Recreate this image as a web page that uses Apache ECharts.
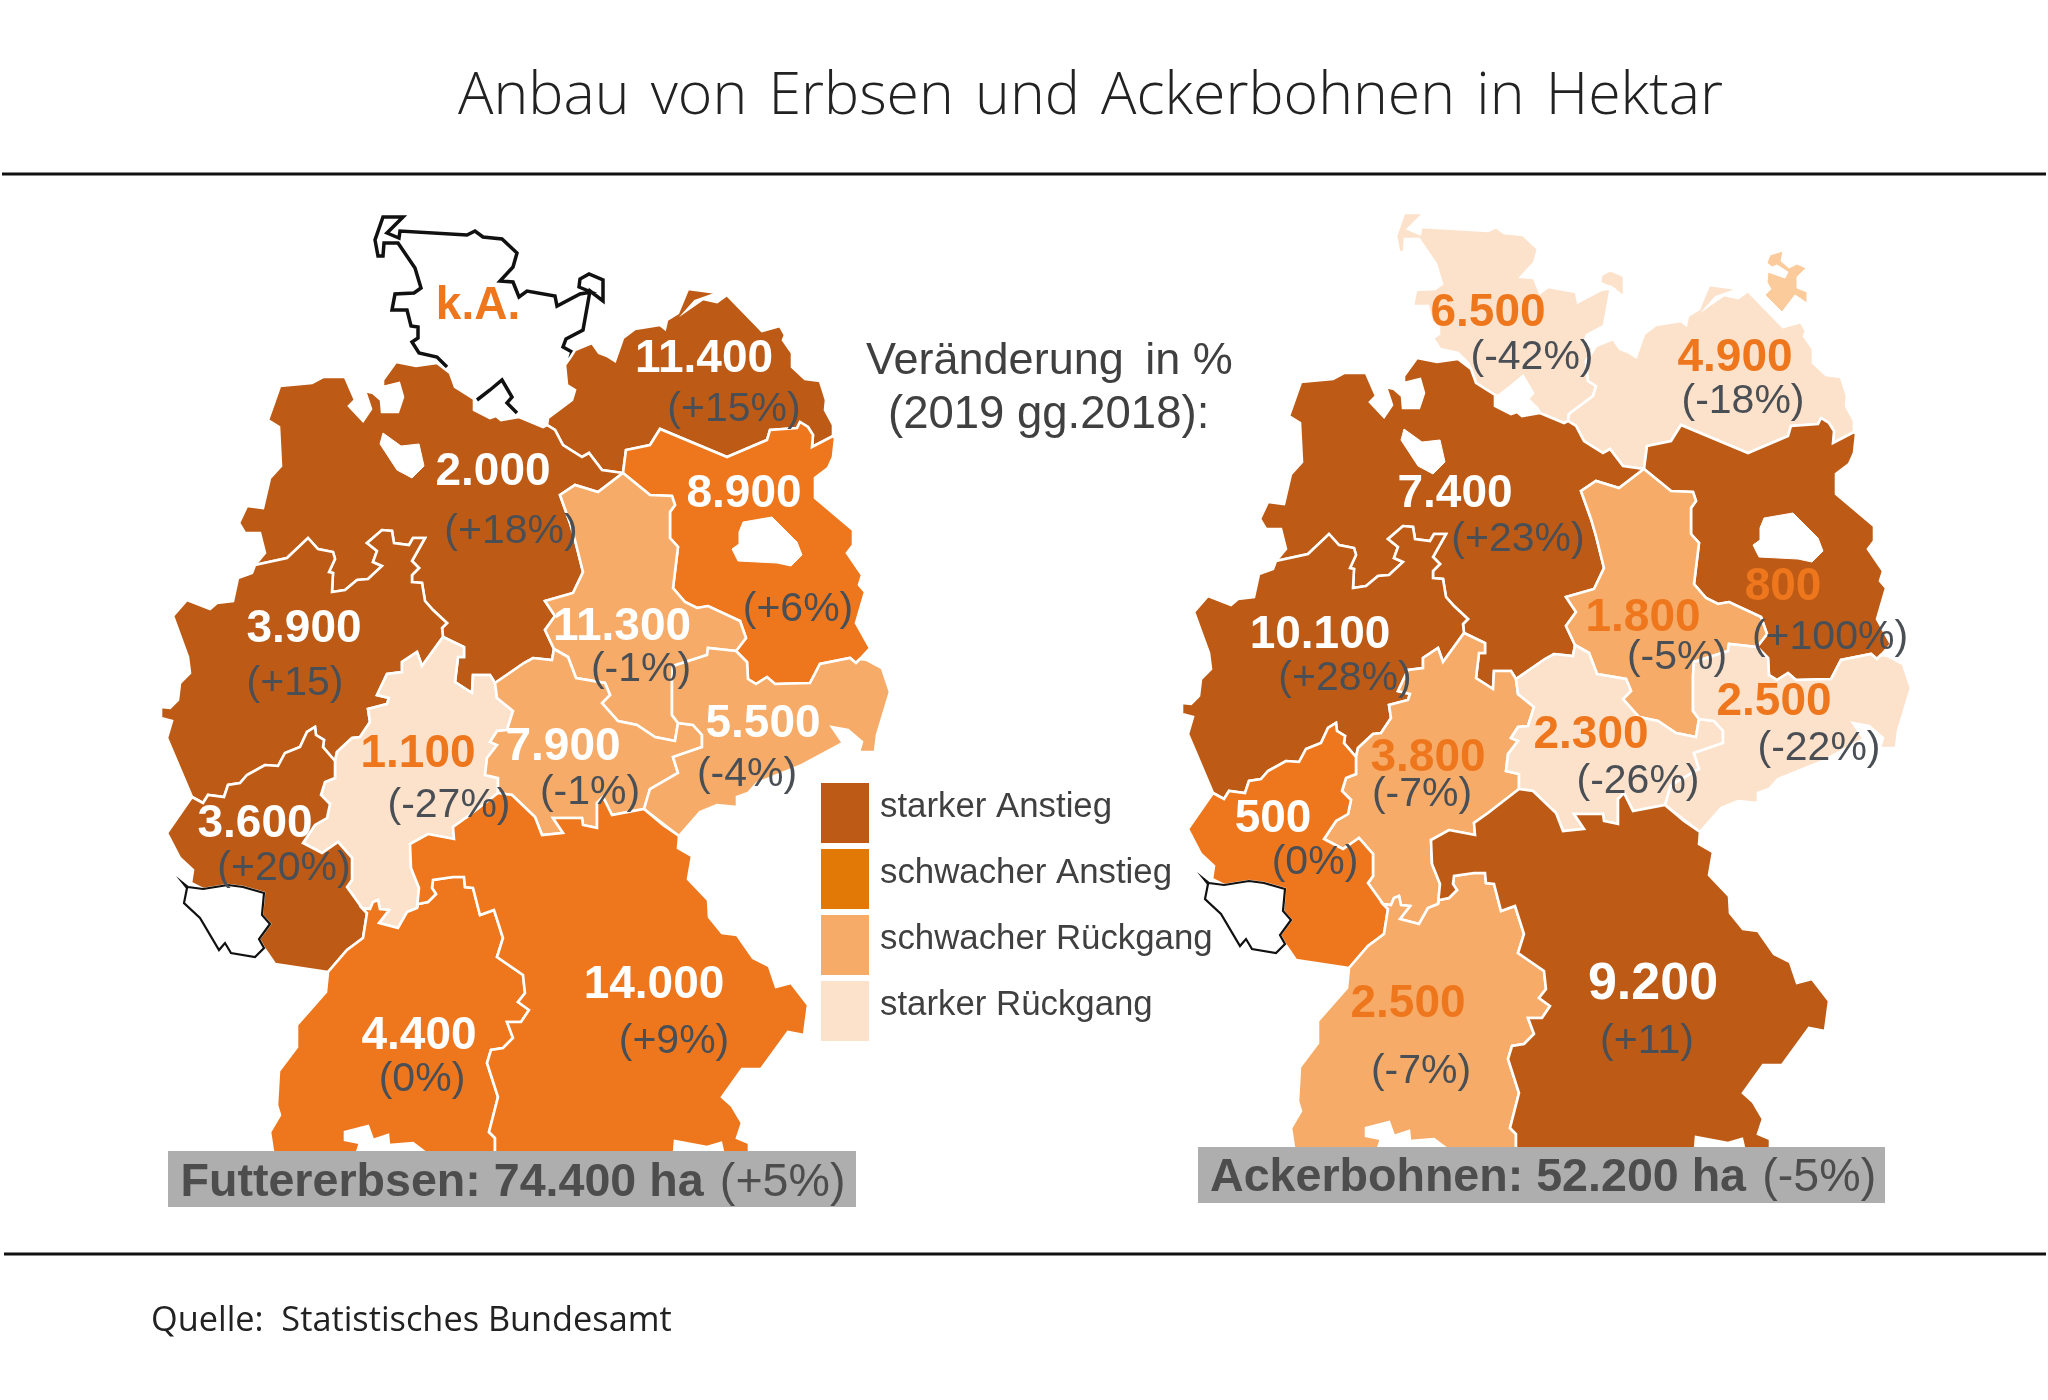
<!DOCTYPE html>
<html><head><meta charset="utf-8">
<style>html,body{margin:0;padding:0;background:#fff}#c{width:2048px;height:1400px}</style>
<script src="https://cdn.jsdelivr.net/npm/echarts@6/dist/echarts.min.js"></script>
</head><body><div id="c"></div>
<script>
// ---------- chart data ----------
const stateNames = ['Schleswig-Holstein','Mecklenburg-Vorpommern','Niedersachsen','Brandenburg','Sachsen-Anhalt','Nordrhein-Westfalen','Hessen','Thüringen','Sachsen','Rheinland-Pfalz','Baden-Württemberg','Bayern'];
const futterValues  = ['k.A.','11.400','2.000','8.900','11.300','3.900','1.100','7.900','5.500','3.600','4.400','14.000'];
const futterChanges = ['','(+15%)','(+18%)','(+6%)','(-1%)','(+15)','(-27%)','(-1%)','(-4%)','(+20%)','(0%)','(+9%)'];
const futterClasses = [-1,0,0,1,2,0,3,2,2,0,1,1];
const bohnenValues  = ['6.500','4.900','7.400','800','1.800','10.100','3.800','2.300','2.500','500','2.500','9.200'];
const bohnenChanges = ['(-42%)','(-18%)','(+23%)','(+100%)','(-5%)','(+28%)','(-7%)','(-26%)','(-22%)','(0%)','(-7%)','(+11)'];
const bohnenClasses = [3,3,0,0,2,0,2,3,3,1,2,0];
const legendLabels = ['starker Anstieg','schwacher Anstieg','schwacher Rückgang','starker Rückgang'];
const legendColors = ['#bd5b16','#e27907','#f6ac68','#fde2cb'];
const classColors  = ['#bd5b16','#ee771e','#f6ac68','#fde2cb'];
const titleText = 'Anbau\u200a von\u200a Erbsen\u200a und\u200a Ackerbohnen\u200a in\u200a Hektar';
const totals = [['Futtererbsen: 74.400 ha','(+5%)'],['Ackerbohnen: 52.200 ha','(-5%)']];

// ---------- label anchors (map units) ----------
const futterValuePos  = [[478,302],[704,355],[493,468],[744,490],[622,623],[304,625],[418,750],[563,743],[763,720],[255,820],[419,1032],[654,981]];
const futterChangePos = [[0,0],[734,408],[511,530],[798,608],[641,668],[295,682],[449,804],[590,791],[747,773],[284,867],[422,1078],[674,1040]];
const bohnenValuePos  = [[467,313],[714,358],[434,494],[762,587],[622,618],[299,635],[407,758],[570,735],[753,702],[252,819],[387,1004],[632,985]];
const bohnenChangePos = [[511,360],[722,404],[497,542],[809,640],[656,660],[324,681],[401,797],[617,784],[798,751],[294,865],[400,1074],[626,1044]];

// ---------- region outlines (map units) ----------
const rev = a => a.slice().reverse();
const shCoast = [[447,367],[437,357],[419,353],[412,342],[418,338],[418,327],[411,326],[407,310],[392,310],[395,294],[414,293],[421,288],[415,268],[398,243],[384,243],[383,256],[378,256],[375,240],[383,217],[403,217],[387,233],[399,238],[400,231],[467,235],[475,231],[483,237],[502,239],[517,253],[513,267],[500,281],[513,282],[519,297],[527,291],[555,296],[557,306],[580,294],[591,292],[579,287],[580,279],[589,274],[603,280],[603,301],[590,291],[583,330],[566,339],[563,347],[572,352],[570,358]];
const shHamburg = [[477,400],[490,390],[502,380],[512,397],[507,403],[517,413]];
const mvTop = [[570,358],[575,350],[592,343],[599,353],[607,356],[615,361],[623,338],[635,329],[660,325],[665,329],[667,320],[678,313],[688,289],[718,293],[695,301],[687,310],[703,299],[717,302],[727,295],[762,331],[780,326],[785,335],[783,340],[792,353],[792,367],[805,379],[820,381],[826,400],[825,410],[833,425],[833,436]];
const mvBb = [[833,436],[812,447],[813,435],[808,427],[800,422],[797,428],[770,430],[767,440],[727,457],[660,429],[650,445],[626,450],[623,473]];
const mvNi = [[623,473],[602,470],[589,453],[582,457],[563,445],[555,430],[547,425]];
const mvSh = [[547,425],[548,418],[572,400],[575,390],[567,385],[565,365],[570,358]];
const niNorth = [[280,386],[312,383],[323,377],[345,377],[355,400],[349,406],[363,421],[371,409],[365,391],[373,393],[381,400],[382,412],[398,412],[403,397],[399,383],[383,387],[383,380],[396,362],[416,366],[437,363],[450,373],[455,387],[474,399],[474,410],[490,418],[496,416],[501,420],[519,417],[543,427],[547,425]];
const niSt = [[623,473],[598,492],[575,485],[560,495],[570,523],[575,540],[583,572],[573,593],[545,601],[555,616],[545,630],[554,649]];
const niTh = [[554,649],[552,660],[533,658],[524,663],[495,683]];
const niHe = [[495,683],[490,675],[473,675],[472,693],[455,682],[458,657],[464,657],[464,647],[443,637]];
const niNrw = [[443,637],[442,628],[447,623],[433,610],[425,601],[422,583],[412,582],[412,575],[419,568],[412,561],[425,538],[413,538],[409,545],[394,543],[392,531],[382,530],[367,543],[377,551],[373,562],[382,566],[368,579],[357,580],[345,590],[332,592],[333,573],[329,572],[335,559],[333,552],[318,549],[308,538],[287,558],[255,565]];
const niWest = [[255,565],[265,553],[260,533],[245,533],[239,523],[247,506],[263,508],[270,478],[281,466],[279,427],[268,420],[280,386]];
const bremen = [[383,433],[401,446],[419,444],[424,466],[412,478],[397,470],[380,444]];
const bbEast = [[833,436],[835,438],[833,457],[828,468],[815,478],[815,498],[853,530],[853,545],[847,553],[862,575],[859,585],[865,592],[856,623],[870,648],[860,659]];
const bbSn = [[860,659],[856,663],[850,658],[820,664],[810,683],[775,684],[767,677],[756,684],[748,679],[747,662],[736,651]];
const bbSt = [[736,651],[746,638],[740,621],[708,606],[697,608],[685,602],[673,588],[678,547],[670,538],[670,512],[675,505],[672,496],[650,495],[623,473]];
const berlin = [[743,522],[772,517],[797,542],[802,555],[791,566],[777,563],[738,561],[732,549],[739,544],[739,532]];
const stSn = [[736,651],[708,648],[707,655],[673,666],[672,680],[672,715],[678,723]];
const stTh = [[678,723],[675,741],[655,737],[637,725],[618,721],[602,703],[610,695],[605,683],[576,678],[568,657],[554,649]];
const thSn = [[678,723],[693,725],[702,735],[702,747],[673,757],[678,773],[650,789],[644,809]];
const thBy = [[644,809],[612,815],[603,797],[597,803],[597,828],[583,825],[582,818],[553,818],[563,833],[542,835],[535,817],[512,795],[498,793]];
const thHe = [[498,793],[498,778],[485,775],[487,758],[497,745],[490,742],[497,731],[507,730],[513,711],[497,698],[495,683]];
const snEast = [[860,659],[867,660],[882,668],[890,692],[877,735],[875,752],[859,752],[862,742],[848,730],[832,727],[843,743],[802,765],[757,783],[748,793],[737,797],[737,807],[717,805],[700,812],[679,836]];
const snBy = [[679,836],[663,825],[644,809]];
const nrwHe = [[443,637],[422,666],[417,652],[402,662],[402,672],[387,674],[377,695],[389,698],[387,704],[368,709],[370,722],[360,737],[352,738],[337,752],[335,761]];
const nrwRp = [[335,761],[323,747],[324,740],[316,735],[315,727],[307,732],[300,747],[285,753],[278,766],[265,765],[247,775],[240,783],[228,785],[224,797],[208,795],[203,803],[192,797]];
const nrwWest = [[192,797],[167,738],[172,721],[161,718],[161,707],[170,708],[178,700],[180,683],[190,673],[188,657],[173,616],[187,600],[210,609],[217,603],[233,601],[238,578],[252,573],[255,565]];
const rpHe = [[335,761],[335,778],[325,782],[321,795],[330,804],[327,818],[315,825],[303,843],[322,853],[338,842],[352,858],[352,880],[347,887],[362,908]];
const rpWest = [[192,797],[167,833],[180,858],[193,870],[191,883]];
const rpSl = [[191,883],[203,889],[228,885],[243,887],[264,893],[262,915],[270,924],[259,939],[264,948],[275,964]];
const rpSouth = [[275,964],[328,972]];
const rpBw = [[328,972],[347,950],[363,938],[367,913],[362,908]];
const saarland = [[183,883],[188,887],[203,889],[228,885],[243,887],[264,893],[262,915],[270,924],[259,939],[264,948],[255,957],[231,953],[225,943],[219,950],[200,918],[184,903],[187,888]];
const heBw = [[362,908],[370,909],[373,902],[378,900],[380,909],[389,910],[379,923],[398,928],[407,912],[417,908]];
const heBy = [[417,908],[419,888],[411,868],[410,844],[428,834],[454,839],[453,827],[467,817],[498,793]];
const byBw = [[417,908],[418,904],[428,902],[436,894],[432,888],[433,880],[453,877],[464,877],[465,887],[473,888],[480,915],[494,910],[503,938],[497,957],[523,975],[525,993],[518,1002],[529,1010],[521,1022],[507,1022],[513,1038],[503,1048],[491,1050],[487,1063],[498,1097],[489,1132],[495,1138],[495,1165]];
const byEast = [[679,836],[678,848],[692,856],[688,879],[708,900],[709,917],[722,933],[737,935],[753,958],[769,966],[776,987],[791,983],[808,1005],[804,1035],[788,1032],[761,1069],[742,1069],[722,1097],[732,1106],[742,1123],[737,1138],[749,1143],[749,1165],[726,1165],[721,1143],[707,1147],[675,1141],[673,1165],[495,1165]];
const bwWest = [[328,972],[326,992],[297,1025],[297,1047],[279,1071],[277,1105],[280,1115],[270,1132],[275,1165]];
const bwSouth = [[275,1165],[353,1165],[360,1143],[345,1140],[345,1132],[368,1126],[373,1140],[388,1135],[389,1145],[413,1143],[442,1165],[495,1165]];
const ruegen = [[749,259],[762,255],[760,265],[768,272],[776,268],[785,272],[776,281],[776,292],[786,296],[786,307],[774,299],[761,316],[744,299],[750,293],[746,286],[747,276],[764,282],[767,276],[756,269],[751,271],[746,267]];

const shape = {
  'Schleswig-Holstein': [[...shCoast, ...rev(mvSh).slice(1), [543,427],[519,417], ...rev(shHamburg), [474,399],[455,387],[450,373]]],
  'Mecklenburg-Vorpommern': [[...mvTop, ...mvBb, ...mvNi, ...mvSh]],
  'Niedersachsen': [[...niNorth, ...rev(mvNi), ...niSt, ...niTh, ...niHe, ...niNrw, ...niWest]],
  'Brandenburg': [[...rev(mvBb), ...bbEast, ...bbSn, ...bbSt]],
  'Sachsen-Anhalt': [[...rev(bbSt), ...stSn, ...stTh, ...rev(niSt)]],
  'Nordrhein-Westfalen': [[...rev(niNrw), ...nrwHe, ...nrwRp, ...nrwWest]],
  'Hessen': [[...rev(niHe), ...rev(thHe), ...rev(heBy), ...rev(heBw), ...rev(rpHe), ...rev(nrwHe)]],
  'Thüringen': [[...rev(niTh), ...rev(stTh), ...thSn, ...thBy, ...thHe]],
  'Sachsen': [[...rev(bbSn), ...snEast, ...rev(snBy), ...rev(thSn), ...rev(stSn)]],
  'Rheinland-Pfalz': [[...nrwRp, ...rpWest, ...rpSl, ...rpSouth, ...rpBw, ...rev(rpHe)]],
  'Baden-Württemberg': [[...rpBw, ...heBw, ...byBw, ...rev(bwSouth), ...rev(bwWest)]],
  'Bayern': [[...heBy, ...rev(thBy), ...rev(snBy), ...byEast, ...rev(byBw)]]
};

const flip = ring => ring.map(p => [p[0], 1400 - p[1]]);
const polygon = (name, rings) => ({type:'Feature', properties:{name}, geometry:{type:'Polygon', coordinates:rings.map(flip)}});
const lineFeature = (name, lines) => ({type:'Feature', properties:{name}, geometry:{type:'MultiLineString', coordinates:lines.map(flip)}});

const common = stateNames.slice(1).map(n => polygon(n, shape[n]));
const cityStates = [polygon('Bremen',[bremen]), polygon('Berlin',[berlin])];
const sl = polygon('Saarland', [saarland]);
echarts.registerMap('futterMap', {type:'FeatureCollection', features:[lineFeature('Schleswig-Holstein',[shCoast,shHamburg]), ...common, ...cityStates, sl]});
echarts.registerMap('bohnenMap', {type:'FeatureCollection', features:[polygon('Schleswig-Holstein', shape['Schleswig-Holstein']), ...common, ...cityStates, polygon('Rügen',[ruegen]), sl]});

function regionsFor(classes, extra){
  const r = stateNames.map((n,i) => classes[i] < 0
    ? {name:n, itemStyle:{areaColor:'none', borderColor:'#111', borderWidth:3.5}}
    : {name:n, itemStyle:{areaColor:classColors[classes[i]], borderColor:'#fff', borderWidth:2.6}});
  r.push({name:'Bremen', itemStyle:{areaColor:'#fff', borderColor:'#fff', borderWidth:1}});
  r.push({name:'Berlin', itemStyle:{areaColor:'#fff', borderColor:'#fff', borderWidth:1}});
  r.push({name:'Saarland', itemStyle:{areaColor:'#fff', borderColor:'#111', borderWidth:2.2}});
  return r.concat(extra||[]);
}
function geoFor(map, classes, left, top, extra){
  return {map, roam:false, silent:true, aspectScale:1, left, top, width:2048, height:1400,
    boundingCoords:[[0,1400],[2048,0]], label:{show:false}, z:1,
    itemStyle:{areaColor:'#fff', borderColor:'#fff', borderWidth:2.6},
    regions:regionsFor(classes, extra)};
}
const isPaleOrLight = (c, lightOrange) => c === 3 || (lightOrange && c === 2);
function valueSeries(name, geoIndex, values, pos, classes, lightOrange){
  return {name, type:'scatter', coordinateSystem:'geo', geoIndex, symbolSize:0, silent:true, z:5,
    itemStyle:{opacity:1},
    data:values.map((v,i) => ({name:v, value:[pos[i][0],1400-pos[i][1]],
      label:{color:(classes[i]<0||isPaleOrLight(classes[i],lightOrange)||v==='800')?'#ee771e':'#ffffff',
             fontSize:v==='9.200'?52:46}})),
    label:{show:true, position:'inside', offset:[0,4], formatter:'{b}', fontFamily:'Liberation Sans', fontWeight:'bold', opacity:1}};
}
function changeSeries(name, geoIndex, values, pos){
  return {name, type:'scatter', coordinateSystem:'geo', geoIndex, symbolSize:0, silent:true, z:6,
    itemStyle:{opacity:1},
    data:values.map((v,i) => ({name:v, value:[pos[i][0],1400-pos[i][1]]})).filter(d=>d.name),
    label:{show:true, position:'inside', offset:[0,2], formatter:'{b}', fontFamily:'Liberation Sans', fontSize:41, color:'#4a4f55', opacity:1}};
}
const legendSeries = legendLabels.map((n,i)=>({name:n, type:'scatter', coordinateSystem:'geo', geoIndex:0, data:[], itemStyle:{color:legendColors[i], opacity:1}}));

function totalBox(left, top, h, w, textLeft, textTop, t){
  return [
    {type:'rect', z:20, shape:{x:left, y:top, width:w, height:h}, style:{fill:'#aeaeae'}},
    {type:'text', z:21, left:textLeft, top:textTop, style:{
      text:'{b|'+t[0]+' } {n|'+t[1]+'}', rich:{
        b:{font:'bold 46.6px "Liberation Sans"', fill:'#4d4d4d', lineHeight:52},
        n:{font:'46.6px "Liberation Sans"', fill:'#4d4d4d', lineHeight:52}}}}
  ];
}
const chart = echarts.init(document.getElementById('c'), null, {renderer:'canvas'});
chart.setOption({
  animation:false, backgroundColor:'#fff',
  title:{text:titleText, left:453, top:63, textStyle:{fontFamily:'Open Sans', fontWeight:300, fontSize:59, color:'#222'}},
  legend:{orient:'vertical', left:821, top:783, padding:0, itemWidth:48, itemHeight:60, itemGap:6, icon:'rect',
    data:legendLabels, selectedMode:false,
    formatter:n=>'{t|'+n+'}\n{s| }',
    textStyle:{padding:[0,0,0,6], rich:{
      t:{fontFamily:'Liberation Sans', fontSize:34.8, color:'#404040', lineHeight:38},
      s:{fontSize:8, lineHeight:11}}}},
  geo:[geoFor('futterMap',futterClasses,0,0), geoFor('bohnenMap',bohnenClasses,1021,-4,[{name:'Rügen',itemStyle:{areaColor:'#fbcb9c',borderColor:'#fff',borderWidth:1}}])],
  series:[
    valueSeries('Futtererbsen Hektar',0,futterValues,futterValuePos,futterClasses,false),
    changeSeries('Futtererbsen Veränderung',0,futterChanges,futterChangePos),
    valueSeries('Ackerbohnen Hektar',1,bohnenValues,bohnenValuePos,bohnenClasses,true),
    changeSeries('Ackerbohnen Veränderung',1,bohnenChanges,bohnenChangePos),
    ...legendSeries
  ],
  graphic:[
    {type:'line', z:20, shape:{x1:2,y1:174,x2:2046,y2:174}, style:{stroke:'#111',lineWidth:3}},
    {type:'line', z:20, shape:{x1:4,y1:1254,x2:2046,y2:1254}, style:{stroke:'#111',lineWidth:3}},
    {type:'text', z:20, left:866, top:339, style:{text:'Veränderung \u2009in %', font:'45px "Liberation Sans"', fill:'#404040'}},
    {type:'text', z:20, left:888, top:392, style:{text:'(2019 gg.2018):', font:'45.5px "Liberation Sans"', fill:'#404040'}},
    {type:'text', z:20, left:151, top:1304, style:{text:'Quelle:  Statistisches Bundesamt', font:'34.3px "Open Sans"', fill:'#222'}},
    ...totalBox(168,1151,56,688,180.5,1160,totals[0]),
    ...totalBox(1198,1147,56,687,1210,1155,totals[1])
  ]
});
</script></body></html>
